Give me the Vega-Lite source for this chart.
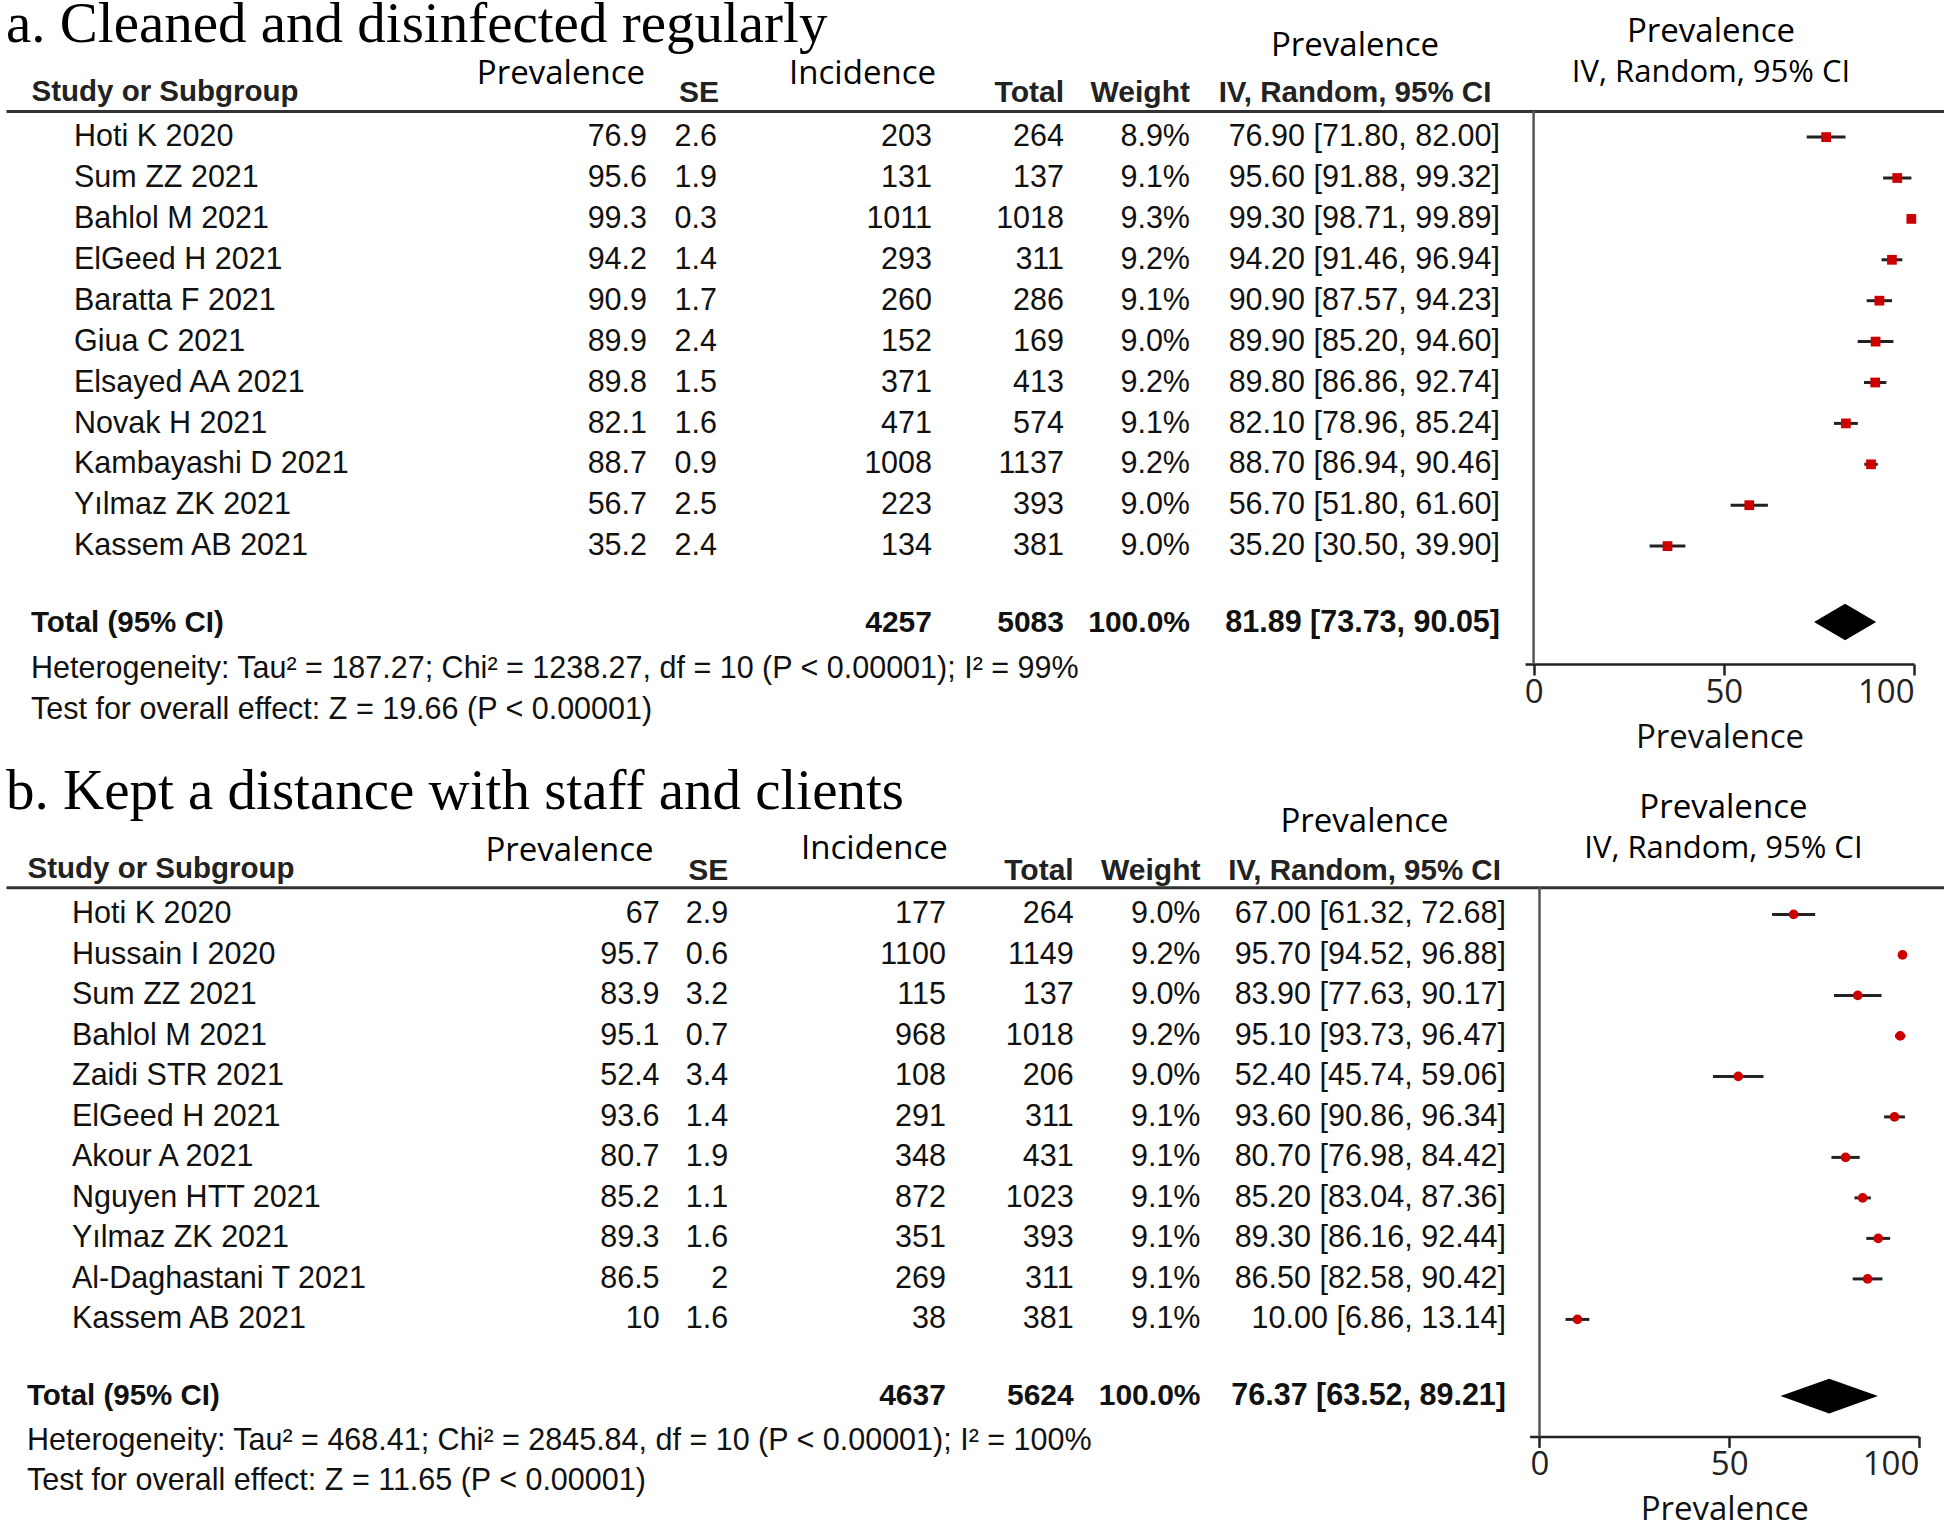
{
"$schema": "https://vega.github.io/schema/vega-lite/v6.json",
"padding": {"left": 6, "top": -4, "right": 0, "bottom": 0},
"background": "white",
"config": {
  "view": {"stroke": null},
  "title": {"color": "#000", "subtitleColor": "#000"},
  "text": {"color": "#111", "baseline": "middle", "font": "Liberation Sans, Arial, sans-serif", "fontSize": 30.5}
},
"datasets": {
  "a": [
    {"label": "Hoti K 2020", "kind": "study", "est": 76.9, "se": 2.6, "inc": 203, "n": 264, "w": "8.9%", "ci": "76.90 [71.80, 82.00]", "lo": 71.8, "hi": 82.0},
    {"label": "Sum ZZ 2021", "kind": "study", "est": 95.6, "se": 1.9, "inc": 131, "n": 137, "w": "9.1%", "ci": "95.60 [91.88, 99.32]", "lo": 91.88, "hi": 99.32},
    {"label": "Bahlol M 2021", "kind": "study", "est": 99.3, "se": 0.3, "inc": 1011, "n": 1018, "w": "9.3%", "ci": "99.30 [98.71, 99.89]", "lo": 98.71, "hi": 99.89},
    {"label": "ElGeed H 2021", "kind": "study", "est": 94.2, "se": 1.4, "inc": 293, "n": 311, "w": "9.2%", "ci": "94.20 [91.46, 96.94]", "lo": 91.46, "hi": 96.94},
    {"label": "Baratta F 2021", "kind": "study", "est": 90.9, "se": 1.7, "inc": 260, "n": 286, "w": "9.1%", "ci": "90.90 [87.57, 94.23]", "lo": 87.57, "hi": 94.23},
    {"label": "Giua C 2021", "kind": "study", "est": 89.9, "se": 2.4, "inc": 152, "n": 169, "w": "9.0%", "ci": "89.90 [85.20, 94.60]", "lo": 85.2, "hi": 94.6},
    {"label": "Elsayed AA 2021", "kind": "study", "est": 89.8, "se": 1.5, "inc": 371, "n": 413, "w": "9.2%", "ci": "89.80 [86.86, 92.74]", "lo": 86.86, "hi": 92.74},
    {"label": "Novak H 2021", "kind": "study", "est": 82.1, "se": 1.6, "inc": 471, "n": 574, "w": "9.1%", "ci": "82.10 [78.96, 85.24]", "lo": 78.96, "hi": 85.24},
    {"label": "Kambayashi D 2021", "kind": "study", "est": 88.7, "se": 0.9, "inc": 1008, "n": 1137, "w": "9.2%", "ci": "88.70 [86.94, 90.46]", "lo": 86.94, "hi": 90.46},
    {"label": "Yılmaz ZK 2021", "kind": "study", "est": 56.7, "se": 2.5, "inc": 223, "n": 393, "w": "9.0%", "ci": "56.70 [51.80, 61.60]", "lo": 51.8, "hi": 61.6},
    {"label": "Kassem AB 2021", "kind": "study", "est": 35.2, "se": 2.4, "inc": 134, "n": 381, "w": "9.0%", "ci": "35.20 [30.50, 39.90]", "lo": 30.5, "hi": 39.9},
    {"label": "Total (95% CI)", "kind": "total", "est": 81.89, "inc": 4257, "n": 5083, "w": "100.0%", "ci": "81.89 [73.73, 90.05]", "lo": 73.73, "hi": 90.05},
    {"label": "Heterogeneity: Tau² = 187.27; Chi² = 1238.27, df = 10 (P < 0.00001); I² = 99%", "kind": "note"},
    {"label": "Test for overall effect: Z = 19.66 (P < 0.00001)", "kind": "note"}
  ],
  "b": [
    {"label": "Hoti K 2020", "kind": "study", "est": 67, "se": 2.9, "inc": 177, "n": 264, "w": "9.0%", "ci": "67.00 [61.32, 72.68]", "lo": 61.32, "hi": 72.68},
    {"label": "Hussain I 2020", "kind": "study", "est": 95.7, "se": 0.6, "inc": 1100, "n": 1149, "w": "9.2%", "ci": "95.70 [94.52, 96.88]", "lo": 94.52, "hi": 96.88},
    {"label": "Sum ZZ 2021", "kind": "study", "est": 83.9, "se": 3.2, "inc": 115, "n": 137, "w": "9.0%", "ci": "83.90 [77.63, 90.17]", "lo": 77.63, "hi": 90.17},
    {"label": "Bahlol M 2021", "kind": "study", "est": 95.1, "se": 0.7, "inc": 968, "n": 1018, "w": "9.2%", "ci": "95.10 [93.73, 96.47]", "lo": 93.73, "hi": 96.47},
    {"label": "Zaidi STR 2021", "kind": "study", "est": 52.4, "se": 3.4, "inc": 108, "n": 206, "w": "9.0%", "ci": "52.40 [45.74, 59.06]", "lo": 45.74, "hi": 59.06},
    {"label": "ElGeed H 2021", "kind": "study", "est": 93.6, "se": 1.4, "inc": 291, "n": 311, "w": "9.1%", "ci": "93.60 [90.86, 96.34]", "lo": 90.86, "hi": 96.34},
    {"label": "Akour A 2021", "kind": "study", "est": 80.7, "se": 1.9, "inc": 348, "n": 431, "w": "9.1%", "ci": "80.70 [76.98, 84.42]", "lo": 76.98, "hi": 84.42},
    {"label": "Nguyen HTT 2021", "kind": "study", "est": 85.2, "se": 1.1, "inc": 872, "n": 1023, "w": "9.1%", "ci": "85.20 [83.04, 87.36]", "lo": 83.04, "hi": 87.36},
    {"label": "Yılmaz ZK 2021", "kind": "study", "est": 89.3, "se": 1.6, "inc": 351, "n": 393, "w": "9.1%", "ci": "89.30 [86.16, 92.44]", "lo": 86.16, "hi": 92.44},
    {"label": "Al-Daghastani T 2021", "kind": "study", "est": 86.5, "se": 2, "inc": 269, "n": 311, "w": "9.1%", "ci": "86.50 [82.58, 90.42]", "lo": 82.58, "hi": 90.42},
    {"label": "Kassem AB 2021", "kind": "study", "est": 10, "se": 1.6, "inc": 38, "n": 381, "w": "9.1%", "ci": "10.00 [6.86, 13.14]", "lo": 6.86, "hi": 13.14},
    {"label": "Total (95% CI)", "kind": "total", "est": 76.37, "inc": 4637, "n": 5624, "w": "100.0%", "ci": "76.37 [63.52, 89.21]", "lo": 63.52, "hi": 89.21},
    {"label": "Heterogeneity: Tau² = 468.41; Chi² = 2845.84, df = 10 (P < 0.00001); I² = 100%", "kind": "note"},
    {"label": "Test for overall effect: Z = 11.65 (P < 0.00001)", "kind": "note"}
  ]
},
"vconcat": [
{
"hconcat": [
  {
    "width": 554, "height": 625, "data": {"name": "a"},
    "title": {"text": "a. Cleaned and disinfected regularly", "anchor": "start", "font": "Liberation Serif", "fontSize": 57, "fontWeight": "normal", "offset": 22},
    "encoding": {
      "x": {"datum": 0, "type": "quantitative", "scale": {"domain": [0, 1], "range": [0, 1938], "nice": false, "zero": false},
            "axis": {"orient": "top", "domain": true, "domainColor": "#333", "domainWidth": 3, "ticks": false, "labels": false, "grid": false, "title": "Study or Subgroup", "titleFont": "Liberation Sans, Arial, sans-serif", "titleFontSize": 29.5, "titleFontWeight": "bold", "titleAlign": "left", "titleAnchor": "start", "titleX": 25, "titleY": -20, "titleBaseline": "middle", "titleColor": "#222"}},
      "y": {"field": "label", "type": "nominal", "scale": {"type": "point", "domain": ["Hoti K 2020","Sum ZZ 2021","Bahlol M 2021","ElGeed H 2021","Baratta F 2021","Giua C 2021","Elsayed AA 2021","Novak H 2021","Kambayashi D 2021","Yılmaz ZK 2021","Kassem AB 2021"," ","Total (95% CI)","Heterogeneity: Tau² = 187.27; Chi² = 1238.27, df = 10 (P < 0.00001); I² = 99%","Test for overall effect: Z = 19.66 (P < 0.00001)"], "padding": 0.638, "round": false}, "axis": null}
    },
    "layer": [
      {"transform": [{"filter": "datum.kind == 'study'"}], "mark": {"type": "text", "align": "left", "dx": 68}, "encoding": {"text": {"field": "label", "type": "nominal"}}},
      {"transform": [{"filter": "datum.kind == 'total'"}], "mark": {"type": "text", "align": "left", "dx": 25, "dy": -5, "fontWeight": "bold", "fontSize": 29.5}, "encoding": {"text": {"field": "label", "type": "nominal"}}},
      {"transform": [{"filter": "datum.kind == 'note'"}], "mark": {"type": "text", "align": "left", "dx": 25}, "encoding": {"text": {"field": "label", "type": "nominal"}}}
    ]
  },
  {
    "width": 87, "height": 625, "data": {"name": "a"},
    "transform": [{"filter": "datum.kind == 'study'"}],
    "title": {"text": "Prevalence", "anchor": "end", "dx": -2, "font": "Open Sans", "fontSize": 33, "fontWeight": "normal", "offset": 20},
    "mark": {"type": "text", "align": "right"},
    "encoding": {
      "x": {"value": "width"},
      "y": {"field": "label", "type": "nominal", "scale": {"type": "point", "domain": ["Hoti K 2020","Sum ZZ 2021","Bahlol M 2021","ElGeed H 2021","Baratta F 2021","Giua C 2021","Elsayed AA 2021","Novak H 2021","Kambayashi D 2021","Yılmaz ZK 2021","Kassem AB 2021"," ","Total (95% CI)","Heterogeneity: Tau² = 187.27; Chi² = 1238.27, df = 10 (P < 0.00001); I² = 99%","Test for overall effect: Z = 19.66 (P < 0.00001)"], "padding": 0.638, "round": false}, "axis": null},
      "text": {"field": "est", "type": "nominal"}
    }
  },
  {
    "width": 70, "height": 625, "data": {"name": "a"},
    "transform": [{"filter": "datum.kind == 'study'"}],
    "title": {"text": "SE", "anchor": "end", "dx": 2, "font": "Liberation Sans, Arial, sans-serif", "fontSize": 30, "fontWeight": "bold", "color": "#222", "offset": 3},
    "mark": {"type": "text", "align": "right"},
    "encoding": {
      "x": {"value": "width"},
      "y": {"field": "label", "type": "nominal", "scale": {"type": "point", "domain": ["Hoti K 2020","Sum ZZ 2021","Bahlol M 2021","ElGeed H 2021","Baratta F 2021","Giua C 2021","Elsayed AA 2021","Novak H 2021","Kambayashi D 2021","Yılmaz ZK 2021","Kassem AB 2021"," ","Total (95% CI)","Heterogeneity: Tau² = 187.27; Chi² = 1238.27, df = 10 (P < 0.00001); I² = 99%","Test for overall effect: Z = 19.66 (P < 0.00001)"], "padding": 0.638, "round": false}, "axis": null},
      "text": {"field": "se", "type": "nominal"}
    }
  },
  {
    "width": 215, "height": 625, "data": {"name": "a"},
    "title": {"text": "Incidence", "anchor": "end", "dx": 4, "font": "Open Sans", "fontSize": 33, "fontWeight": "normal", "offset": 20},
    "encoding": {
      "x": {"value": "width"},
      "y": {"field": "label", "type": "nominal", "scale": {"type": "point", "domain": ["Hoti K 2020","Sum ZZ 2021","Bahlol M 2021","ElGeed H 2021","Baratta F 2021","Giua C 2021","Elsayed AA 2021","Novak H 2021","Kambayashi D 2021","Yılmaz ZK 2021","Kassem AB 2021"," ","Total (95% CI)","Heterogeneity: Tau² = 187.27; Chi² = 1238.27, df = 10 (P < 0.00001); I² = 99%","Test for overall effect: Z = 19.66 (P < 0.00001)"], "padding": 0.638, "round": false}, "axis": null},
      "text": {"field": "inc", "type": "nominal"}
    },
    "layer": [
      {"transform": [{"filter": "datum.kind == 'study'"}], "mark": {"type": "text", "align": "right"}},
      {"transform": [{"filter": "datum.kind == 'total'"}], "mark": {"type": "text", "align": "right", "dy": -5, "fontWeight": "bold", "fontSize": 30}}
    ]
  },
  {
    "width": 132, "height": 625, "data": {"name": "a"},
    "title": {"text": "Total", "anchor": "end", "font": "Liberation Sans, Arial, sans-serif", "fontSize": 30, "fontWeight": "bold", "color": "#222", "offset": 3},
    "encoding": {
      "x": {"value": "width"},
      "y": {"field": "label", "type": "nominal", "scale": {"type": "point", "domain": ["Hoti K 2020","Sum ZZ 2021","Bahlol M 2021","ElGeed H 2021","Baratta F 2021","Giua C 2021","Elsayed AA 2021","Novak H 2021","Kambayashi D 2021","Yılmaz ZK 2021","Kassem AB 2021"," ","Total (95% CI)","Heterogeneity: Tau² = 187.27; Chi² = 1238.27, df = 10 (P < 0.00001); I² = 99%","Test for overall effect: Z = 19.66 (P < 0.00001)"], "padding": 0.638, "round": false}, "axis": null},
      "text": {"field": "n", "type": "nominal"}
    },
    "layer": [
      {"transform": [{"filter": "datum.kind == 'study'"}], "mark": {"type": "text", "align": "right"}},
      {"transform": [{"filter": "datum.kind == 'total'"}], "mark": {"type": "text", "align": "right", "dy": -5, "fontWeight": "bold", "fontSize": 30}}
    ]
  },
  {
    "width": 126, "height": 625, "data": {"name": "a"},
    "title": {"text": "Weight", "anchor": "end", "font": "Liberation Sans, Arial, sans-serif", "fontSize": 30, "fontWeight": "bold", "color": "#222", "offset": 3},
    "encoding": {
      "x": {"value": "width"},
      "y": {"field": "label", "type": "nominal", "scale": {"type": "point", "domain": ["Hoti K 2020","Sum ZZ 2021","Bahlol M 2021","ElGeed H 2021","Baratta F 2021","Giua C 2021","Elsayed AA 2021","Novak H 2021","Kambayashi D 2021","Yılmaz ZK 2021","Kassem AB 2021"," ","Total (95% CI)","Heterogeneity: Tau² = 187.27; Chi² = 1238.27, df = 10 (P < 0.00001); I² = 99%","Test for overall effect: Z = 19.66 (P < 0.00001)"], "padding": 0.638, "round": false}, "axis": null},
      "text": {"field": "w", "type": "nominal"}
    },
    "layer": [
      {"transform": [{"filter": "datum.kind == 'study'"}], "mark": {"type": "text", "align": "right"}},
      {"transform": [{"filter": "datum.kind == 'total'"}], "mark": {"type": "text", "align": "right", "dy": -5, "fontWeight": "bold", "fontSize": 30}}
    ]
  },
  {
    "width": 310, "height": 625, "data": {"name": "a"},
    "title": {"text": "Prevalence", "subtitle": "IV, Random, 95% CI", "anchor": "middle", "dx": 10, "font": "Open Sans", "fontSize": 33, "fontWeight": "normal", "subtitleFont": "Liberation Sans, Arial, sans-serif", "subtitleFontSize": 29.5, "subtitleFontWeight": "bold", "subtitleColor": "#222", "subtitlePadding": 16.5, "offset": 3.5},
    "encoding": {
      "x": {"value": "width"},
      "y": {"field": "label", "type": "nominal", "scale": {"type": "point", "domain": ["Hoti K 2020","Sum ZZ 2021","Bahlol M 2021","ElGeed H 2021","Baratta F 2021","Giua C 2021","Elsayed AA 2021","Novak H 2021","Kambayashi D 2021","Yılmaz ZK 2021","Kassem AB 2021"," ","Total (95% CI)","Heterogeneity: Tau² = 187.27; Chi² = 1238.27, df = 10 (P < 0.00001); I² = 99%","Test for overall effect: Z = 19.66 (P < 0.00001)"], "padding": 0.638, "round": false}, "axis": null},
      "text": {"field": "ci", "type": "nominal"}
    },
    "layer": [
      {"transform": [{"filter": "datum.kind == 'study'"}], "mark": {"type": "text", "align": "right"}},
      {"transform": [{"filter": "datum.kind == 'total'"}], "mark": {"type": "text", "align": "right", "dy": -5, "fontWeight": "bold", "fontSize": 30.5}}
    ]
  },
  {
    "width": 414, "height": 553, "data": {"name": "a"},
    "title": {"text": "Prevalence", "subtitle": "IV, Random, 95% CI", "anchor": "middle", "dx": 4, "font": "Open Sans", "fontSize": 33, "fontWeight": "normal", "subtitleFont": "Open Sans", "subtitleFontSize": 31, "subtitlePadding": 9, "offset": 22},
    "layer": [
      {"transform": [{"filter": "datum.kind == 'total'"}], "mark": {"type": "rule", "color": "#555", "strokeWidth": 2.5},
       "encoding": {"x": {"datum": 0, "type": "quantitative", "scale": {"domain": [-2.26, 100], "range": [25, 414], "nice": false, "zero": false},
         "axis": {"orient": "bottom", "values": [0, 50, 100], "title": "Prevalence", "titleFont": "Open Sans", "titleFontSize": 33, "titleFontWeight": "normal", "titleColor": "#111", "titlePadding": 12, "labelFont": "Open Sans", "labelFontSize": 33, "labelColor": "#222", "labelPadding": 1, "labelFlush": 5, "labelOverlap": false, "tickSize": 11, "tickWidth": 2.5, "tickColor": "#222", "domainColor": "#222", "domainWidth": 2.5, "grid": false}}}},
      {"transform": [{"filter": "datum.kind == 'study'"}], "mark": {"type": "rule", "color": "#222", "strokeWidth": 3},
       "encoding": {
         "x": {"field": "lo", "type": "quantitative", "scale": {"domain": [-2.26, 100], "range": [25, 414], "nice": false, "zero": false}},
         "x2": {"field": "hi"},
         "y": {"field": "label", "type": "nominal", "scale": {"type": "point", "domain": ["Hoti K 2020","Sum ZZ 2021","Bahlol M 2021","ElGeed H 2021","Baratta F 2021","Giua C 2021","Elsayed AA 2021","Novak H 2021","Kambayashi D 2021","Yılmaz ZK 2021","Kassem AB 2021"," ","Total (95% CI)"], "padding": 0.7604, "align": 0.4196, "round": false}, "axis": null}}},
      {"transform": [{"filter": "datum.kind == 'study'"}], "mark": {"type": "point", "shape": "square", "filled": true, "color": "#cc0000", "size": 95, "opacity": 1},
       "encoding": {
         "x": {"field": "est", "type": "quantitative", "scale": {"domain": [-2.26, 100], "range": [25, 414], "nice": false, "zero": false}},
         "y": {"field": "label", "type": "nominal", "scale": {"type": "point", "domain": ["Hoti K 2020","Sum ZZ 2021","Bahlol M 2021","ElGeed H 2021","Baratta F 2021","Giua C 2021","Elsayed AA 2021","Novak H 2021","Kambayashi D 2021","Yılmaz ZK 2021","Kassem AB 2021"," ","Total (95% CI)"], "padding": 0.7604, "align": 0.4196, "round": false}, "axis": null}}},
      {"transform": [{"filter": "datum.kind == 'total'"}], "mark": {"type": "point", "shape": "M-1,-0.19L0,-0.78L1,-0.19L0,0.4Z", "filled": true, "color": "#000", "size": 3856, "opacity": 1},
       "encoding": {
         "x": {"field": "est", "type": "quantitative", "scale": {"domain": [-2.26, 100], "range": [25, 414], "nice": false, "zero": false}},
         "y": {"field": "label", "type": "nominal", "scale": {"type": "point", "domain": ["Hoti K 2020","Sum ZZ 2021","Bahlol M 2021","ElGeed H 2021","Baratta F 2021","Giua C 2021","Elsayed AA 2021","Novak H 2021","Kambayashi D 2021","Yılmaz ZK 2021","Kassem AB 2021"," ","Total (95% CI)"], "padding": 0.7604, "align": 0.4196, "round": false}, "axis": null}}}
    ]
  }
],
"spacing": 0, "bounds": "flush"
},
{
"hconcat": [
  {
    "width": 554, "height": 621.4, "data": {"name": "b"},
    "title": {"text": "b. Kept a distance with staff and clients", "anchor": "start", "font": "Liberation Serif", "fontSize": 57, "fontWeight": "normal", "offset": 33},
    "encoding": {
      "x": {"datum": 0, "type": "quantitative", "scale": {"domain": [0, 1], "range": [0, 1938], "nice": false, "zero": false},
            "axis": {"orient": "top", "domain": true, "domainColor": "#333", "domainWidth": 3, "ticks": false, "labels": false, "grid": false, "title": "Study or Subgroup", "titleFont": "Liberation Sans, Arial, sans-serif", "titleFontSize": 29.5, "titleFontWeight": "bold", "titleAlign": "left", "titleAnchor": "start", "titleX": 21, "titleY": -18.5, "titleBaseline": "middle", "titleColor": "#222"}},
      "y": {"field": "label", "type": "nominal", "scale": {"type": "point", "domain": ["Hoti K 2020","Hussain I 2020","Sum ZZ 2021","Bahlol M 2021","Zaidi STR 2021","ElGeed H 2021","Akour A 2021","Nguyen HTT 2021","Yılmaz ZK 2021","Al-Daghastani T 2021","Kassem AB 2021"," ","Total (95% CI)","Heterogeneity: Tau² = 468.41; Chi² = 2845.84, df = 10 (P < 0.00001); I² = 100%","Test for overall effect: Z = 11.65 (P < 0.00001)"], "padding": 0.672, "round": false}, "axis": null}
    },
    "layer": [
      {"transform": [{"filter": "datum.kind == 'study'"}], "mark": {"type": "text", "align": "left", "dx": 66}, "encoding": {"text": {"field": "label", "type": "nominal"}}},
      {"transform": [{"filter": "datum.kind == 'total'"}], "mark": {"type": "text", "align": "left", "dx": 21, "dy": -4, "fontWeight": "bold", "fontSize": 29.5}, "encoding": {"text": {"field": "label", "type": "nominal"}}},
      {"transform": [{"filter": "datum.kind == 'note'"}], "mark": {"type": "text", "align": "left", "dx": 21}, "encoding": {"text": {"field": "label", "type": "nominal"}}}
    ]
  },
  {
    "width": 99.6, "height": 621.4, "data": {"name": "b"},
    "transform": [{"filter": "datum.kind == 'study'"}],
    "title": {"text": "Prevalence", "anchor": "end", "dx": -6, "font": "Open Sans", "fontSize": 33, "fontWeight": "normal", "offset": 19},
    "mark": {"type": "text", "align": "right"},
    "encoding": {
      "x": {"value": "width"},
      "y": {"field": "label", "type": "nominal", "scale": {"type": "point", "domain": ["Hoti K 2020","Hussain I 2020","Sum ZZ 2021","Bahlol M 2021","Zaidi STR 2021","ElGeed H 2021","Akour A 2021","Nguyen HTT 2021","Yılmaz ZK 2021","Al-Daghastani T 2021","Kassem AB 2021"," ","Total (95% CI)","Heterogeneity: Tau² = 468.41; Chi² = 2845.84, df = 10 (P < 0.00001); I² = 100%","Test for overall effect: Z = 11.65 (P < 0.00001)"], "padding": 0.672, "round": false}, "axis": null},
      "text": {"field": "est", "type": "nominal"}
    }
  },
  {
    "width": 68.2, "height": 621.4, "data": {"name": "b"},
    "transform": [{"filter": "datum.kind == 'study'"}],
    "title": {"text": "SE", "anchor": "end", "font": "Liberation Sans, Arial, sans-serif", "fontSize": 30, "fontWeight": "bold", "color": "#222", "offset": 1.5},
    "mark": {"type": "text", "align": "right"},
    "encoding": {
      "x": {"value": "width"},
      "y": {"field": "label", "type": "nominal", "scale": {"type": "point", "domain": ["Hoti K 2020","Hussain I 2020","Sum ZZ 2021","Bahlol M 2021","Zaidi STR 2021","ElGeed H 2021","Akour A 2021","Nguyen HTT 2021","Yılmaz ZK 2021","Al-Daghastani T 2021","Kassem AB 2021"," ","Total (95% CI)","Heterogeneity: Tau² = 468.41; Chi² = 2845.84, df = 10 (P < 0.00001); I² = 100%","Test for overall effect: Z = 11.65 (P < 0.00001)"], "padding": 0.672, "round": false}, "axis": null},
      "text": {"field": "se", "type": "nominal"}
    }
  },
  {
    "width": 216.9, "height": 621.4, "data": {"name": "b"},
    "title": {"text": "Incidence", "anchor": "end", "dx": 2, "font": "Open Sans", "fontSize": 33, "fontWeight": "normal", "offset": 21},
    "encoding": {
      "x": {"value": "width"},
      "y": {"field": "label", "type": "nominal", "scale": {"type": "point", "domain": ["Hoti K 2020","Hussain I 2020","Sum ZZ 2021","Bahlol M 2021","Zaidi STR 2021","ElGeed H 2021","Akour A 2021","Nguyen HTT 2021","Yılmaz ZK 2021","Al-Daghastani T 2021","Kassem AB 2021"," ","Total (95% CI)","Heterogeneity: Tau² = 468.41; Chi² = 2845.84, df = 10 (P < 0.00001); I² = 100%","Test for overall effect: Z = 11.65 (P < 0.00001)"], "padding": 0.672, "round": false}, "axis": null},
      "text": {"field": "inc", "type": "nominal"}
    },
    "layer": [
      {"transform": [{"filter": "datum.kind == 'study'"}], "mark": {"type": "text", "align": "right"}},
      {"transform": [{"filter": "datum.kind == 'total'"}], "mark": {"type": "text", "align": "right", "dy": -4, "fontWeight": "bold", "fontSize": 30}}
    ]
  },
  {
    "width": 127.7, "height": 621.4, "data": {"name": "b"},
    "title": {"text": "Total", "anchor": "end", "font": "Liberation Sans, Arial, sans-serif", "fontSize": 30, "fontWeight": "bold", "color": "#222", "offset": 1.5},
    "encoding": {
      "x": {"value": "width"},
      "y": {"field": "label", "type": "nominal", "scale": {"type": "point", "domain": ["Hoti K 2020","Hussain I 2020","Sum ZZ 2021","Bahlol M 2021","Zaidi STR 2021","ElGeed H 2021","Akour A 2021","Nguyen HTT 2021","Yılmaz ZK 2021","Al-Daghastani T 2021","Kassem AB 2021"," ","Total (95% CI)","Heterogeneity: Tau² = 468.41; Chi² = 2845.84, df = 10 (P < 0.00001); I² = 100%","Test for overall effect: Z = 11.65 (P < 0.00001)"], "padding": 0.672, "round": false}, "axis": null},
      "text": {"field": "n", "type": "nominal"}
    },
    "layer": [
      {"transform": [{"filter": "datum.kind == 'study'"}], "mark": {"type": "text", "align": "right"}},
      {"transform": [{"filter": "datum.kind == 'total'"}], "mark": {"type": "text", "align": "right", "dy": -4, "fontWeight": "bold", "fontSize": 30}}
    ]
  },
  {
    "width": 126.5, "height": 621.4, "data": {"name": "b"},
    "title": {"text": "Weight", "anchor": "end", "font": "Liberation Sans, Arial, sans-serif", "fontSize": 30, "fontWeight": "bold", "color": "#222", "offset": 1.5},
    "encoding": {
      "x": {"value": "width"},
      "y": {"field": "label", "type": "nominal", "scale": {"type": "point", "domain": ["Hoti K 2020","Hussain I 2020","Sum ZZ 2021","Bahlol M 2021","Zaidi STR 2021","ElGeed H 2021","Akour A 2021","Nguyen HTT 2021","Yılmaz ZK 2021","Al-Daghastani T 2021","Kassem AB 2021"," ","Total (95% CI)","Heterogeneity: Tau² = 468.41; Chi² = 2845.84, df = 10 (P < 0.00001); I² = 100%","Test for overall effect: Z = 11.65 (P < 0.00001)"], "padding": 0.672, "round": false}, "axis": null},
      "text": {"field": "w", "type": "nominal"}
    },
    "layer": [
      {"transform": [{"filter": "datum.kind == 'study'"}], "mark": {"type": "text", "align": "right"}},
      {"transform": [{"filter": "datum.kind == 'total'"}], "mark": {"type": "text", "align": "right", "dy": -4, "fontWeight": "bold", "fontSize": 30}}
    ]
  },
  {
    "width": 305, "height": 621.4, "data": {"name": "b"},
    "title": {"text": "Prevalence", "subtitle": "IV, Random, 95% CI", "anchor": "middle", "dx": 11, "font": "Open Sans", "fontSize": 33, "fontWeight": "normal", "subtitleFont": "Liberation Sans, Arial, sans-serif", "subtitleFontSize": 29.5, "subtitleFontWeight": "bold", "subtitleColor": "#222", "subtitlePadding": 18, "offset": 2.2},
    "encoding": {
      "x": {"value": "width"},
      "y": {"field": "label", "type": "nominal", "scale": {"type": "point", "domain": ["Hoti K 2020","Hussain I 2020","Sum ZZ 2021","Bahlol M 2021","Zaidi STR 2021","ElGeed H 2021","Akour A 2021","Nguyen HTT 2021","Yılmaz ZK 2021","Al-Daghastani T 2021","Kassem AB 2021"," ","Total (95% CI)","Heterogeneity: Tau² = 468.41; Chi² = 2845.84, df = 10 (P < 0.00001); I² = 100%","Test for overall effect: Z = 11.65 (P < 0.00001)"], "padding": 0.672, "round": false}, "axis": null},
      "text": {"field": "ci", "type": "nominal"}
    },
    "layer": [
      {"transform": [{"filter": "datum.kind == 'study'"}], "mark": {"type": "text", "align": "right"}},
      {"transform": [{"filter": "datum.kind == 'total'"}], "mark": {"type": "text", "align": "right", "dy": -4, "fontWeight": "bold", "fontSize": 30.5}}
    ]
  },
  {
    "width": 412.8, "height": 549.2, "data": {"name": "b"},
    "title": {"text": "Prevalence", "subtitle": "IV, Random, 95% CI", "anchor": "middle", "dx": 11, "font": "Open Sans", "fontSize": 33, "fontWeight": "normal", "subtitleFont": "Open Sans", "subtitleFontSize": 31, "subtitlePadding": 9, "offset": 22},
    "layer": [
      {"transform": [{"filter": "datum.kind == 'total'"}], "mark": {"type": "rule", "color": "#555", "strokeWidth": 2.5},
       "encoding": {"x": {"datum": 0, "type": "quantitative", "scale": {"domain": [-2.61, 100], "range": [23.6, 412.8], "nice": false, "zero": false},
         "axis": {"orient": "bottom", "values": [0, 50, 100], "title": "Prevalence", "titleFont": "Open Sans", "titleFontSize": 33, "titleFontWeight": "normal", "titleColor": "#111", "titlePadding": 12, "labelFont": "Open Sans", "labelFontSize": 33, "labelColor": "#222", "labelPadding": 1, "labelFlush": 5, "labelOverlap": false, "tickSize": 11, "tickWidth": 2.5, "tickColor": "#222", "domainColor": "#222", "domainWidth": 2.5, "grid": false}}}},
      {"transform": [{"filter": "datum.kind == 'study'"}], "mark": {"type": "rule", "color": "#222", "strokeWidth": 3},
       "encoding": {
         "x": {"field": "lo", "type": "quantitative", "scale": {"domain": [-2.61, 100], "range": [23.6, 412.8], "nice": false, "zero": false}},
         "x2": {"field": "hi"},
         "y": {"field": "label", "type": "nominal", "scale": {"type": "point", "domain": ["Hoti K 2020","Hussain I 2020","Sum ZZ 2021","Bahlol M 2021","Zaidi STR 2021","ElGeed H 2021","Akour A 2021","Nguyen HTT 2021","Yılmaz ZK 2021","Al-Daghastani T 2021","Kassem AB 2021"," ","Total (95% CI)"], "padding": 0.780, "align": 0.4304, "round": false}, "axis": null}}},
      {"transform": [{"filter": "datum.kind == 'study'"}], "mark": {"type": "point", "shape": "circle", "filled": true, "color": "#cc0000", "size": 95, "opacity": 1},
       "encoding": {
         "x": {"field": "est", "type": "quantitative", "scale": {"domain": [-2.61, 100], "range": [23.6, 412.8], "nice": false, "zero": false}},
         "y": {"field": "label", "type": "nominal", "scale": {"type": "point", "domain": ["Hoti K 2020","Hussain I 2020","Sum ZZ 2021","Bahlol M 2021","Zaidi STR 2021","ElGeed H 2021","Akour A 2021","Nguyen HTT 2021","Yılmaz ZK 2021","Al-Daghastani T 2021","Kassem AB 2021"," ","Total (95% CI)"], "padding": 0.780, "align": 0.4304, "round": false}, "axis": null}}},
      {"transform": [{"filter": "datum.kind == 'total'"}], "mark": {"type": "point", "shape": "M-1,-0.09L0,-0.447L1,-0.09L0,0.267Z", "filled": true, "color": "#000", "size": 9487, "opacity": 1},
       "encoding": {
         "x": {"field": "est", "type": "quantitative", "scale": {"domain": [-2.61, 100], "range": [23.6, 412.8], "nice": false, "zero": false}},
         "y": {"field": "label", "type": "nominal", "scale": {"type": "point", "domain": ["Hoti K 2020","Hussain I 2020","Sum ZZ 2021","Bahlol M 2021","Zaidi STR 2021","ElGeed H 2021","Akour A 2021","Nguyen HTT 2021","Yılmaz ZK 2021","Al-Daghastani T 2021","Kassem AB 2021"," ","Total (95% CI)"], "padding": 0.780, "align": 0.4304, "round": false}, "axis": null}}}
    ]
  }
],
"spacing": 0, "bounds": "flush"
}
],
"spacing": 776.2, "bounds": "flush"
}
